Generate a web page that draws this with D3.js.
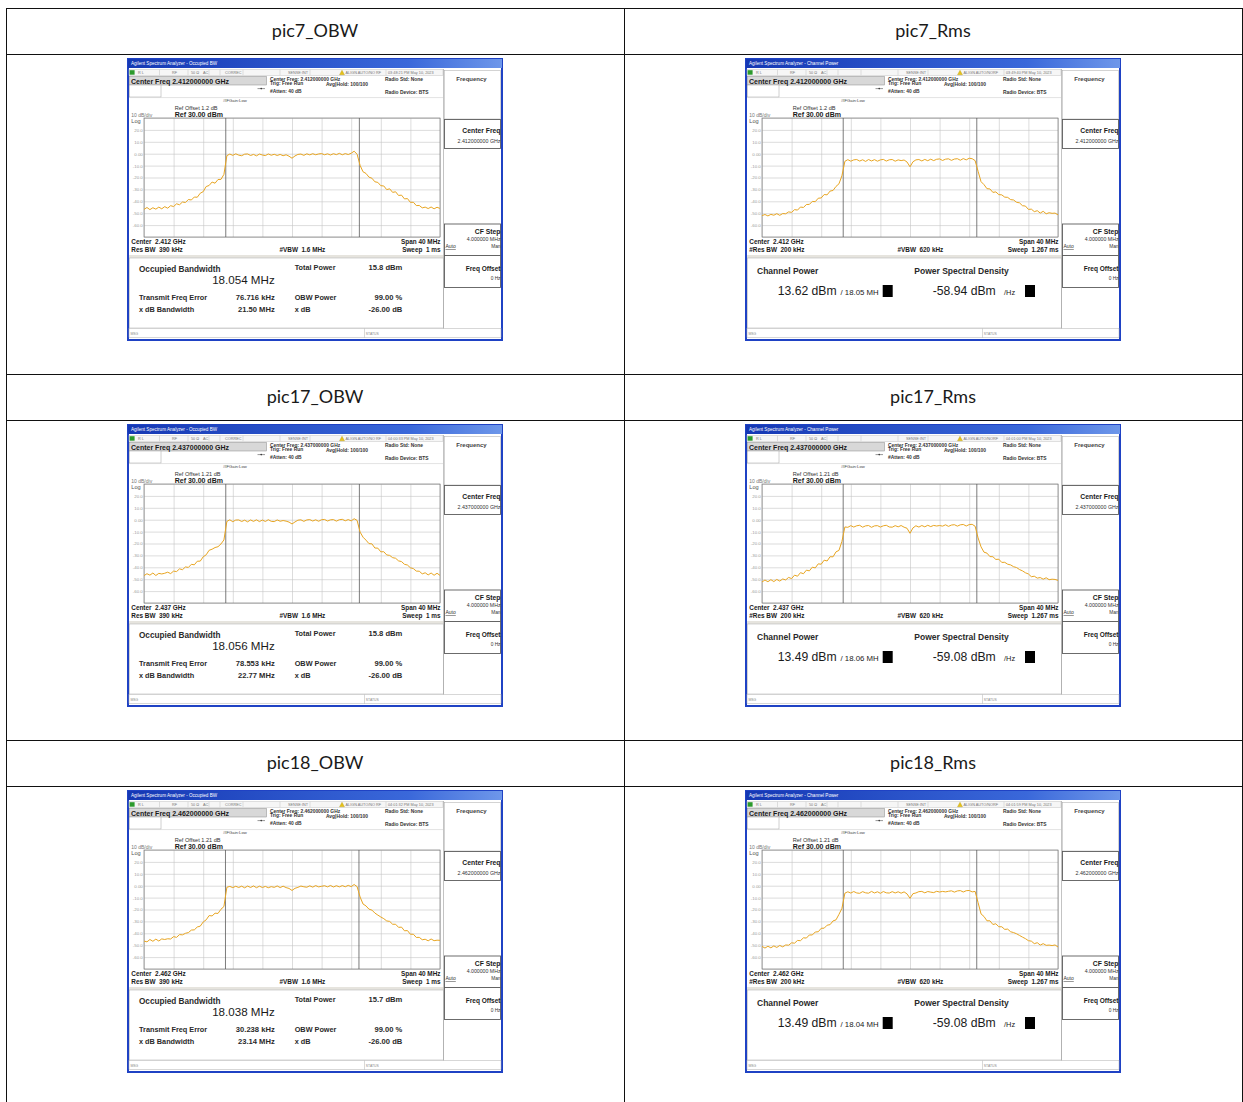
<!DOCTYPE html>
<html>
<head>
<meta charset="utf-8">
<script src="https://cdn.jsdelivr.net/npm/d3@7"></script>
<style>
  body { margin: 0; background: #fff; }
  svg { display: block; }
  text { white-space: pre; }
</style>
</head>
<body>
<svg id="page" width="1243" height="1102"></svg>
<script>
// ---- table cells ----
const cellTitles = ["pic7_OBW", "pic7_Rms", "pic17_OBW", "pic17_Rms", "pic18_OBW", "pic18_Rms"];
const cellModes = ["obw", "chp", "obw", "chp", "obw", "chp"];
const timeStamps = ["03:48:21 PM May 10, 2023", "03:49:40 PM May 10, 2023",
                    "04:00:33 PM May 10, 2023", "04:01:00 PM May 10, 2023",
                    "04:01:32 PM May 10, 2023", "04:01:59 PM May 10, 2023"];

// ---- analyzer settings per channel (rows) ----
const centerFreqLong = ["2.412000000", "2.437000000", "2.462000000"];
const centerFreqShort = ["2.412", "2.437", "2.462"];
const refOffsets = ["1.2", "1.21", "1.21"];

// ---- measurement results ----
const obwBandwidthMHz = [18.054, 18.056, 18.038];
const obwTotalPowerDbm = [15.8, 15.8, 15.7];
const obwFreqErrorKHz = [76.716, 78.553, 30.238];
const obwXdbBandwidthMHz = [21.50, 22.77, 23.14];
const chpPowerDbm = [13.62, 13.49, 13.49];
const chpBandwidthMHz = [18.05, 18.06, 18.04];
const chpDensityDbmHz = [-58.94, -59.08, -59.08];

// ---- graticule ----
const gridFreqs = [-20, -16, -12, -8, -4, 0, 4, 8, 12, 16, 20];
const gridLevels = [30, 20, 10, 0, -10, -20, -30, -40, -50, -60, -70];

// ---- sweep bins (MHz offset from center, 40 MHz span) ----
const freqOffsetMHz = [
  -20, -19.6, -19.2, -18.8, -18.4, -18, -17.6, -17.2, -16.8, -16.4,
  -16, -15.6, -15.2, -14.8, -14.4, -14, -13.6, -13.2, -12.8, -12.4,
  -12, -11.6, -11.2, -10.8, -10.4, -10, -9.6, -9.2, -8.8, -8.4,
  -8, -7.6, -7.2, -6.8, -6.4, -6, -5.6, -5.2, -4.8, -4.4,
  -4, -3.6, -3.2, -2.8, -2.4, -2, -1.6, -1.2, -0.8, -0.4,
  0, 0.4, 0.8, 1.2, 1.6, 2, 2.4, 2.8, 3.2, 3.6,
  4, 4.4, 4.8, 5.2, 5.6, 6, 6.4, 6.8, 7.2, 7.6,
  8, 8.4, 8.8, 9.2, 9.6, 10, 10.4, 10.8, 11.2, 11.6,
  12, 12.4, 12.8, 13.2, 13.6, 14, 14.4, 14.8, 15.2, 15.6,
  16, 16.4, 16.8, 17.2, 17.6, 18, 18.4, 18.8, 19.2, 19.6,
  20
];

// ---- traces (dBm) ----
const traceObw7 = [
  -46.8, -45.2, -47.0, -45.4, -46.6, -44.9, -46.3, -44.5, -45.8, -43.7,
  -44.4, -42.1, -42.9, -40.6, -41.0, -38.5, -38.9, -36.4, -36.6, -33.2,
  -31.9, -27.6, -26.7, -23.8, -24.8, -21.7, -21.6, -17.4,
  -1.6, -0.3, -1.4, -0.1, -1.2, -1.7, -0.4, -0.2, -1.5, -0.6,
  -1.8, -0.3, -1.1, -1.6, -0.2, -1.3, -0.5, -1.5, -0.6, -1.7,
  -0.9, -2.1, -3.8, -1.9, -0.6, -0.3, -1.4, -0.1, -1.0, 0.0,
  -0.9, -0.2, 0.1, -0.9, -0.1, -1.1, 0.0, -0.8, 0.3, -0.9,
  0.1, -0.7, 0.4, 2.1, -0.5,
  -9.8, -15.2, -16.6, -19.7, -20.6, -23.6, -24.1, -26.9, -27.1, -30.2,
  -29.5, -32.5, -32.0, -35.1, -34.8, -38.0, -37.7, -40.9, -40.8, -43.6,
  -43.5, -45.5, -44.9, -46.1, -44.8, -46.3, -45.0, -46.0
];
const traceChp7 = [
  -52.0, -51.1, -52.3, -51.0, -51.7, -50.4, -51.8, -50.3, -50.5, -48.9,
  -49.3, -47.0, -47.4, -44.8, -45.2, -42.7, -42.6, -40.1, -40.3, -37.4,
  -37.2, -34.3, -34.6, -31.4, -30.9, -27.5, -25.3, -18.6,
  -6.4, -5.0, -6.3, -5.2, -4.9, -6.2, -5.1, -6.5, -4.9, -6.1,
  -5.0, -6.3, -5.2, -4.8, -6.2, -5.1, -4.9, -6.3, -5.2, -5.8,
  -5.3, -7.0, -11.0, -6.8, -5.2, -4.9, -6.1, -4.8, -5.9, -4.6,
  -5.8, -4.7, -4.4, -5.7, -4.6, -4.3, -5.6, -4.5, -4.2, -5.5,
  -4.1, -5.2, -3.8, -4.2, -5.8,
  -14.8, -23.5, -26.0, -29.4, -29.6, -32.5, -32.1, -34.4, -34.6, -36.5,
  -36.7, -38.6, -38.9, -40.8, -41.3, -43.7, -44.0, -46.8, -46.6, -48.7,
  -47.9, -49.9, -48.4, -50.5, -49.6, -50.1, -49.9, -51.4
];
const traceObw17 = [
  -47.0, -45.4, -46.6, -44.8, -46.9, -45.1, -45.6, -45.0, -44.1, -45.3,
  -43.2, -43.6, -41.3, -42.0, -39.7, -40.1, -37.5, -37.9, -34.9, -34.8,
  -31.2, -29.5, -25.7, -24.8, -23.4, -22.7, -20.4, -17.0,
  -1.4, -0.1, -1.7, -0.3, -0.2, -1.5, -0.4, -1.8, -0.2, -1.4,
  -0.1, -1.6, -0.3, -1.5, 0.0, -1.4, -1.6, -0.2, -1.3, -0.7,
  -1.2, -2.0, -3.6, -1.9, -0.4, -0.1, -1.4, -0.2, 0.1, -1.1,
  -0.1, -1.3, 0.0, 0.2, -1.1, -0.1, 0.1, -1.2, 0.0, 0.3,
  -0.9, 0.1, -1.0, 0.8, -0.6,
  -10.4, -14.7, -17.2, -20.1, -20.3, -23.8, -23.9, -27.0, -26.9, -29.6,
  -30.0, -31.9, -32.4, -34.6, -35.2, -37.5, -38.1, -40.4, -41.1, -43.2,
  -43.3, -45.5, -44.6, -46.4, -44.8, -46.7, -45.0, -46.8
];
const traceChp17 = [
  -52.3, -50.7, -52.1, -50.4, -52.0, -50.2, -51.6, -49.8, -50.6, -48.5,
  -49.5, -46.6, -47.5, -44.5, -45.4, -42.4, -43.0, -39.9, -40.5, -37.1,
  -37.4, -34.0, -34.7, -31.1, -31.2, -27.0, -25.8, -18.3,
  -6.1, -6.4, -5.0, -6.2, -5.1, -4.7, -6.3, -5.2, -4.9, -6.4,
  -5.2, -5.0, -6.2, -5.1, -4.7, -6.1, -6.3, -5.0, -6.0, -4.9,
  -6.3, -7.2, -11.4, -6.9, -5.1, -6.2, -4.9, -6.0, -4.7, -5.8,
  -4.8, -5.3, -4.9, -5.4, -4.3, -5.6, -4.5, -4.2, -5.4, -4.3,
  -4.0, -5.3, -4.1, -3.9, -5.5,
  -15.3, -22.8, -27.3, -28.1, -31.0, -31.1, -33.4, -33.2, -35.9, -35.8,
  -37.4, -38.0, -39.5, -40.2, -41.9, -43.0, -44.6, -45.6, -47.9, -47.5,
  -49.1, -48.6, -50.0, -48.8, -50.4, -50.0, -50.2, -51.0
];
const traceObw18 = [
  -46.5, -47.2, -45.2, -46.7, -44.9, -46.5, -44.7, -45.2, -44.6, -44.8,
  -42.8, -43.4, -41.1, -41.3, -40.0, -39.4, -37.3, -37.1, -34.7, -34.0,
  -30.5, -28.7, -25.1, -25.4, -23.1, -23.3, -19.8, -17.5,
  -1.3, -0.6, -1.6, -0.5, -1.5, -0.4, -1.8, -0.3, -1.5, -0.2,
  -1.7, -0.4, -1.5, -0.6, -1.7, -0.8, -1.4, -0.2, -1.6, -0.4,
  -1.6, -2.3, -4.0, -2.2, -1.4, -0.3, -0.9, -1.3, -0.1, -1.2,
  0.1, -1.0, -0.5, 0.0, -1.0, 0.2, -1.1, 0.0, -1.0, 0.1,
  -0.9, 0.3, -0.8, 1.0, -0.8,
  -9.5, -15.4, -17.0, -19.7, -20.5, -23.0, -24.7, -26.3, -27.7, -29.6,
  -30.0, -32.4, -32.4, -35.0, -34.8, -37.9, -37.7, -40.8, -40.8, -43.5,
  -43.4, -45.4, -45.0, -46.3, -44.8, -46.2, -45.8, -45.9
];
const traceChp18 = [
  -51.0, -52.4, -50.9, -52.2, -50.6, -51.9, -50.2, -51.4, -49.8, -50.0,
  -48.0, -48.3, -46.0, -46.2, -43.8, -44.0, -41.4, -41.4, -38.9, -38.7,
  -35.8, -35.7, -33.2, -32.7, -29.6, -28.7, -24.1, -19.1,
  -6.3, -5.1, -6.2, -4.9, -6.1, -6.4, -5.0, -6.0, -6.3, -4.8,
  -6.1, -5.1, -6.4, -4.9, -6.0, -6.2, -5.0, -6.1, -5.1, -6.3,
  -5.2, -6.9, -10.6, -6.7, -6.1, -5.0, -4.8, -6.0, -4.9, -5.4,
  -5.8, -4.7, -5.3, -4.8, -5.2, -4.7, -4.3, -5.4, -4.4, -4.1,
  -5.3, -4.2, -4.0, -5.2, -4.8,
  -14.2, -23.7, -25.9, -29.5, -29.5, -32.6, -32.0, -34.5, -34.5, -36.7,
  -36.5, -38.7, -39.4, -40.4, -41.8, -43.2, -44.5, -46.2, -46.6, -48.7,
  -47.9, -49.9, -48.7, -50.1, -49.9, -50.3, -49.8, -51.5
];
const cellTraces = [traceObw7, traceChp7, traceObw17, traceChp17, traceObw18, traceChp18];

// ---- per-mode labels ----
const windowTitles = { obw: "Agilent Spectrum Analyzer - Occupied BW", chp: "Agilent Spectrum Analyzer - Channel Power" };
const resBwLabels = { obw: "Res BW  390 kHz", chp: "#Res BW  200 kHz" };
const vbwLabels = { obw: "#VBW  1.6 MHz", chp: "#VBW  620 kHz" };
const sweepLabels = { obw: "Sweep  1 ms", chp: "Sweep  1.267 ms" };

// ---------------------------------------------------------------
const FONT = "'Liberation Sans', Arial, sans-serif";
const svg = d3.select("#page");
const defs = svg.append("defs");
const grad = defs.append("linearGradient").attr("id", "titleGrad")
  .attr("x1", 0).attr("x2", 1).attr("y1", 0).attr("y2", 0);
grad.append("stop").attr("offset", 0).attr("stop-color", "#1538b4");
grad.append("stop").attr("offset", 0.75).attr("stop-color", "#3a68da");
grad.append("stop").attr("offset", 1).attr("stop-color", "#6e97ea");

// table grid
const tableLeft = 6, tableMid = 624, tableRight = 1242, tableTop = 8;
const rowPitch = 366, headerH = 46;
const hLines = [];
for (let r = 0; r < 3; r++) { hLines.push(tableTop + r * rowPitch, tableTop + r * rowPitch + headerH); }
svg.append("g").selectAll("line.h").data(hLines).join("line")
  .attr("x1", tableLeft).attr("x2", tableRight + 0.5)
  .attr("y1", d => d + 0.5).attr("y2", d => d + 0.5)
  .attr("stroke", "#111").attr("stroke-width", 1);
svg.append("g").selectAll("line.v").data([tableLeft, tableMid, tableRight]).join("line")
  .attr("x1", d => d + 0.5).attr("x2", d => d + 0.5)
  .attr("y1", tableTop).attr("y2", 1102)
  .attr("stroke", "#111").attr("stroke-width", 1);

cellTitles.forEach((t, i) => {
  const r = Math.floor(i / 2), c = i % 2;
  const cx = c === 0 ? (tableLeft + tableMid) / 2 : (tableMid + tableRight) / 2;
  svg.append("text")
    .attr("x", cx).attr("y", tableTop + r * rowPitch + headerH / 2 + 6)
    .attr("text-anchor", "middle")
    .attr("font-family", "Lato, 'Noto Sans', sans-serif")
    .attr("font-size", 18).attr("fill", "#1a1a1a")
    .text(t);
});

// ---------------------------------------------------------------
function txt(g, x, y, s, size, opts = {}) {
  return g.append("text").attr("x", x).attr("y", y)
    .attr("font-family", FONT).attr("font-size", size)
    .attr("font-weight", opts.bold ? "bold" : "normal")
    .attr("fill", opts.fill || "#222")
    .attr("text-anchor", opts.anchor || "start")
    .text(s);
}

function drawPanel(idx) {
  const r = Math.floor(idx / 2), c = idx % 2;
  const mode = cellModes[idx];
  const px = c === 0 ? 128 : 746, py = 59 + r * rowPitch;
  const W = 374, H = 281;
  const g = svg.append("g").attr("transform", `translate(${px},${py})`);

  // window body + frame
  g.append("rect").attr("x", 0).attr("y", 0).attr("width", W).attr("height", H)
    .attr("fill", "#fff").attr("stroke", "#1f42c4").attr("stroke-width", 2);
  g.append("rect").attr("x", 0).attr("y", 0).attr("width", W).attr("height", 9)
    .attr("fill", "url(#titleGrad)");
  txt(g, 3, 6.3, windowTitles[mode], 4.6, { fill: "#fff" });

  // status row
  g.append("rect").attr("x", 1).attr("y", 10.5).attr("width", 314).attr("height", 5.8)
    .attr("fill", "#f6f6f6").attr("stroke", "#b5b5b5").attr("stroke-width", 0.4);
  g.append("rect").attr("x", 1.6).attr("y", 11.2).attr("width", 5).attr("height", 4.5).attr("fill", "#2c9a2c");
  [31.5, 60, 81, 92, 115, 152, 182, 258].forEach(sx => {
    g.append("line").attr("x1", sx).attr("x2", sx).attr("y1", 10.8).attr("y2", 16.2)
      .attr("stroke", "#b5b5b5").attr("stroke-width", 0.4);
  });
  const st = { fill: "#777" };
  txt(g, 10, 15, "R L", 3.8, st);
  txt(g, 44, 15, "RF", 3.8, st);
  txt(g, 63, 15, "50 Ω", 3.8, st);
  txt(g, 75, 15, "AC", 3.8, st);
  if (mode === "obw") txt(g, 97, 15, "CORREC", 3.8, st);
  txt(g, 160, 15, "SENSE:INT", 3.8, st);
  g.append("path").attr("d", "M211.5,15.8 L214,11.2 L216.5,15.8 Z")
    .attr("fill", "#e7c21a").attr("stroke", "#a88a00").attr("stroke-width", 0.3);
  txt(g, 217.5, 15, mode === "obw" ? "ALIGN AUTO/NO RF" : "ALIGN AUTO/NORF", 3.8, st);
  txt(g, 260, 15, timeStamps[idx], 3.8, st);

  // header block
  g.append("rect").attr("x", 1.5).attr("y", 17.5).attr("width", 137).attr("height", 8.5)
    .attr("fill", "#d8d8d8").attr("stroke", "#8a8a8a").attr("stroke-width", 0.5);
  txt(g, 3, 24.6, `Center Freq ${centerFreqLong[r]} GHz`, 7, { bold: true, fill: "#1a1a1a" });
  g.append("rect").attr("x", 1.5).attr("y", 26).attr("width", 31.5).attr("height", 12)
    .attr("fill", "#fff").attr("stroke", "#a0a0a0").attr("stroke-width", 0.5);
  g.append("line").attr("x1", 129.5).attr("x2", 137).attr("y1", 29.6).attr("y2", 29.6)
    .attr("stroke", "#333").attr("stroke-width", 0.5);
  g.append("circle").attr("cx", 133.2).attr("cy", 29.6).attr("r", 0.8).attr("fill", "#333");
  const hb = { bold: true, fill: "#333" };
  txt(g, 142, 21.8, `Center Freq: ${centerFreqLong[r]} GHz`, 4.9, hb);
  txt(g, 142, 26.4, "Trig: Free Run", 4.9, hb);
  txt(g, 142, 34.2, "#Atten: 40 dB", 4.9, hb);
  txt(g, 198, 27.4, "Avg|Hold: 100/100", 4.9, hb);
  txt(g, 95, 43.4, "#IFGain:Low", 4.2, { fill: "#444" });
  txt(g, 257, 21.8, "Radio Std: None", 4.9, hb);
  txt(g, 257, 35.2, "Radio Device: BTS", 4.9, hb);
  g.append("line").attr("x1", 1).attr("x2", 315).attr("y1", 38.6).attr("y2", 38.6)
    .attr("stroke", "#cfcfcf").attr("stroke-width", 0.6);

  // reference labels
  txt(g, 46.7, 51.2, `Ref Offset ${refOffsets[r]} dB`, 5.6, { fill: "#333" });
  txt(g, 46.7, 58.4, "Ref 30.00 dBm", 7, { bold: true, fill: "#1a1a1a" });
  txt(g, 3.3, 58.2, "10 dB/div", 5, { fill: "#777" });
  txt(g, 3.3, 63.6, "Log", 5.6, { fill: "#555" });

  // graticule
  const x = d3.scaleLinear().domain([-20, 20]).range([16, 312]);
  const y = d3.scaleLinear().domain([-70, 30]).range([178, 59]);
  const gr = g.append("g");
  gr.append("g").attr("transform", `translate(0,${y(-70)})`)
    .call(d3.axisBottom(x).tickValues(gridFreqs).tickSize(-(y(-70) - y(30))).tickFormat(""))
    .call(a => a.select(".domain").remove())
    .call(a => a.selectAll(".tick line").attr("stroke", "#c4c4c4").attr("stroke-width", 0.6));
  gr.append("g").attr("transform", `translate(${x(-20)},0)`)
    .call(d3.axisLeft(y).tickValues(gridLevels).tickSize(-(x(20) - x(-20))).tickPadding(1.2)
      .tickFormat(d => (d === 30 || d === -70) ? "" : (d === 0 ? "0.00" : d.toFixed(1))))
    .call(a => a.select(".domain").remove())
    .call(a => a.selectAll(".tick line").attr("stroke", "#c4c4c4").attr("stroke-width", 0.6))
    .call(a => a.selectAll(".tick text").attr("font-family", FONT).attr("font-size", 4.4).attr("fill", "#9a9a9a"));
  gr.append("rect").attr("x", x(-20)).attr("y", y(30)).attr("width", x(20) - x(-20)).attr("height", y(-70) - y(30))
    .attr("fill", "none").attr("stroke", "#7a7a7a").attr("stroke-width", 0.7);

  // bandwidth markers
  let edges;
  if (mode === "obw") {
    const off = obwFreqErrorKHz[r] / 1000;
    edges = [off - obwBandwidthMHz[r] / 2, off + obwBandwidthMHz[r] / 2];
  } else {
    edges = [-chpBandwidthMHz[r] / 2, chpBandwidthMHz[r] / 2];
  }
  gr.selectAll("line.mk").data(edges).join("line")
    .attr("x1", d => x(d)).attr("x2", d => x(d)).attr("y1", y(30)).attr("y2", y(-70))
    .attr("stroke", "#5a5a5a").attr("stroke-width", 0.8);

  // trace
  const pts = freqOffsetMHz.map((f, i) => ({ f, v: cellTraces[idx][i] }));
  gr.append("path").datum(pts)
    .attr("d", d3.line().x(d => x(d.f)).y(d => y(d.v)))
    .attr("fill", "none").attr("stroke", "#e8a521").attr("stroke-width", 1)
    .attr("stroke-linejoin", "round");

  // bottom annotations
  const bb = { bold: true, fill: "#1a1a1a" };
  txt(g, 3.3, 185.3, `Center  ${centerFreqShort[r]} GHz`, 6.4, bb);
  txt(g, 3.3, 193.2, resBwLabels[mode], 6.4, bb);
  txt(g, 151.5, 193.2, vbwLabels[mode], 6.4, bb);
  txt(g, 312.5, 185.3, "Span 40 MHz", 6.4, { ...bb, anchor: "end" });
  txt(g, 312.5, 193.2, sweepLabels[mode], 6.4, { ...bb, anchor: "end" });
  g.append("rect").attr("x", 1).attr("y", 196).attr("width", 314.5).attr("height", 3).attr("fill", "#e6e4de");

  // results window
  g.append("rect").attr("x", 1.5).attr("y", 199).attr("width", 314).attr("height", 70)
    .attr("fill", "#fff").attr("stroke", "#b8b8b8").attr("stroke-width", 0.6);
  if (mode === "obw") {
    const lb = { bold: true, fill: "#2a2a2a" };
    txt(g, 11, 213, "Occupied Bandwidth", 8.2, lb);
    txt(g, 146.7, 225.2, `${obwBandwidthMHz[r].toFixed(3)} MHz`, 11.6, { fill: "#1a1a1a", anchor: "end" });
    txt(g, 166.7, 211, "Total Power", 7.3, lb);
    txt(g, 274.3, 211, `${obwTotalPowerDbm[r].toFixed(1)} dBm`, 7.6, { ...lb, anchor: "end" });
    txt(g, 11, 241, "Transmit Freq Error", 7.3, lb);
    txt(g, 146.7, 241, `${obwFreqErrorKHz[r].toFixed(3)} kHz`, 7.6, { ...lb, anchor: "end" });
    txt(g, 166.7, 241, "OBW Power", 7.3, lb);
    txt(g, 274.3, 241, "99.00 %", 7.6, { ...lb, anchor: "end" });
    txt(g, 11, 252.7, "x dB Bandwidth", 7.3, lb);
    txt(g, 146.7, 252.7, `${obwXdbBandwidthMHz[r].toFixed(2)} MHz`, 7.6, { ...lb, anchor: "end" });
    txt(g, 166.7, 252.7, "x dB", 7.3, lb);
    txt(g, 274.3, 252.7, "-26.00 dB", 7.6, { ...lb, anchor: "end" });
  } else {
    const lb = { bold: true, fill: "#2a2a2a" };
    txt(g, 11, 215, "Channel Power", 8.5, lb);
    txt(g, 168.3, 215, "Power Spectral Density", 8.5, lb);
    txt(g, 31.7, 236, `${chpPowerDbm[r].toFixed(2)} dBm`, 12.2, { fill: "#1a1a1a" });
    txt(g, 94.5, 236, `/ ${chpBandwidthMHz[r].toFixed(2)} MH`, 7.8, { fill: "#1a1a1a" });
    g.append("rect").attr("x", 136.7).attr("y", 226).attr("width", 10).attr("height", 12).attr("fill", "#000");
    txt(g, 186.7, 236, `${chpDensityDbmHz[r].toFixed(2)} dBm`, 12.2, { fill: "#1a1a1a" });
    txt(g, 258, 236, "/Hz", 7.4, { fill: "#1a1a1a" });
    g.append("rect").attr("x", 279).attr("y", 226).attr("width", 10).attr("height", 12).attr("fill", "#000");
  }

  // status bar
  g.append("rect").attr("x", 1).attr("y", 269.5).attr("width", 372).attr("height", 9.2)
    .attr("fill", "#fff").attr("stroke", "#b0b0b0").attr("stroke-width", 0.5);
  g.append("line").attr("x1", 236.5).attr("x2", 236.5).attr("y1", 269.5).attr("y2", 278.7)
    .attr("stroke", "#b0b0b0").attr("stroke-width", 0.5);
  txt(g, 2.5, 275.8, "MSG", 3.4, { fill: "#888" });
  txt(g, 237.8, 275.8, "STATUS", 3.4, { fill: "#888" });

  // softkey column
  g.append("line").attr("x1", 315.5).attr("x2", 315.5).attr("y1", 10).attr("y2", 269.5)
    .attr("stroke", "#9a9a9a").attr("stroke-width", 0.6);
  const keys = [
    { y0: 11.5, y1: 60 }, { y0: 60.5, y1: 89.5 }, { y0: 165, y1: 196.5 }, { y0: 196.5, y1: 228.5 }
  ];
  keys.forEach((k, i) => {
    g.append("rect").attr("x", 316.5).attr("y", k.y0).attr("width", 56).attr("height", k.y1 - k.y0)
      .attr("fill", "#fff").attr("stroke", i === 0 ? "#a8a8a8" : "#5c5c5c").attr("stroke-width", i === 0 ? 0.5 : 0.9);
  });
  txt(g, 343.5, 21.6, "Frequency", 6, { bold: true, fill: "#444", anchor: "middle" });
  txt(g, 372.5, 74.2, "Center Freq", 6.8, { bold: true, fill: "#1a1a1a", anchor: "end" });
  txt(g, 372.5, 83.6, `${centerFreqLong[r]} GHz`, 5.3, { fill: "#333", anchor: "end" });
  txt(g, 372.5, 174.6, "CF Step", 6.8, { bold: true, fill: "#1a1a1a", anchor: "end" });
  txt(g, 372.5, 181.8, "4.000000 MHz", 5.2, { fill: "#333", anchor: "end" });
  txt(g, 317.5, 189.2, "Auto", 5, { fill: "#333" }).attr("text-decoration", "underline");
  txt(g, 372.5, 188.6, "Man", 4.8, { fill: "#333", anchor: "end" });
  txt(g, 372.5, 212.4, "Freq Offset", 6.5, { bold: true, fill: "#1a1a1a", anchor: "end" });
  txt(g, 372.5, 221, "0 Hz", 4.8, { fill: "#333", anchor: "end" });
}

cellTitles.forEach((_, i) => drawPanel(i));
</script>
</body>
</html>
